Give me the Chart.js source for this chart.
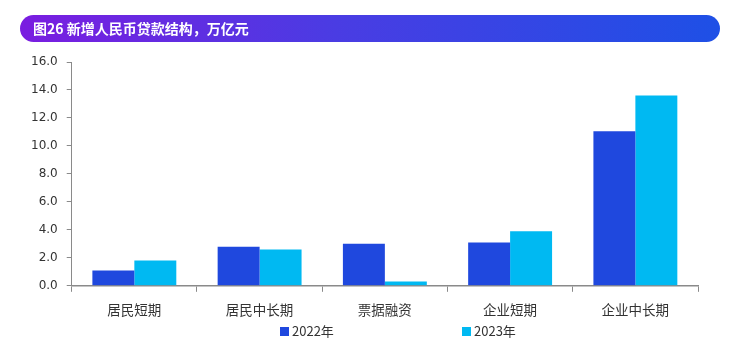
<!DOCTYPE html>
<html>
<head>
<meta charset="utf-8">
<script src="https://cdn.jsdelivr.net/npm/chart.js@4/dist/chart.umd.min.js"></script>
<style>
    body { margin: 0; background: #fff; width: 734px; height: 344px; overflow: hidden; position: relative; font-family: "Noto Sans CJK SC", "Noto Sans", sans-serif; }
    .title-bar { position: absolute; left: 20px; top: 15px; width: 700px; height: 27px; border-radius: 14px;
        background: linear-gradient(90deg, #7a1de0 0%, #4a3ce3 45%, #1e50e6 100%);
        color: #fff; font-weight: bold; font-size: 14px; line-height: 27px; padding-left: 13px; box-sizing: border-box; }
    #chartWrap { position: absolute; left: 0; top: 0; width: 734px; height: 344px; }
    .legend { position: absolute; top: 322px; font-size: 13px; color: #333; line-height: 18px; }
    .legend span.box { display: inline-block; width: 9px; height: 9px; margin-right: 3px; vertical-align: 0px; }
</style>
</head>
<body>
<div id="chartWrap"><canvas id="loanChart" width="734" height="344"></canvas></div>
<div class="title-bar">图26 新增人民币贷款结构，万亿元</div>
<div class="legend" style="left: 280px;"><span class="box" style="background:#1f48de;"></span>2022年</div>
<div class="legend" style="left: 462px;"><span class="box" style="background:#00b9f2;"></span>2023年</div>
<script>
// 数据
const categorias = ['居民短期', '居民中长期', '票据融资', '企业短期', '企业中长期'];
const serie2022 = [1.1, 2.8, 3.0, 3.1, 11.05];
const serie2023 = [1.8, 2.6, 0.3, 3.9, 13.6];
const yTicks = [0, 2, 4, 6, 8, 10, 12, 14, 16];

const ctx = document.getElementById('loanChart').getContext('2d');
new Chart(ctx, {
    type: 'bar',
    data: {
        labels: categorias,
        datasets: [
            { label: '2022年', data: serie2022, backgroundColor: '#1f48de', categoryPercentage: 0.67, barPercentage: 1.0 },
            { label: '2023年', data: serie2023, backgroundColor: '#00b9f2', categoryPercentage: 0.67, barPercentage: 1.0 }
        ]
    },
    options: {
        responsive: false,
        animation: false,
        layout: { padding: { top: 62, left: 22, right: 36, bottom: 16 } },
        plugins: {
            legend: { display: false },
            tooltip: { enabled: false }
        },
        scales: {
            x: {
                grid: { display: true, drawOnChartArea: false, drawTicks: true, tickLength: 6, color: '#8a8a8a', offset: true },
                border: { color: '#8a8a8a', width: 1.5 },
                ticks: { color: '#333', font: { size: 13.5, family: '"Noto Sans CJK SC"' }, padding: 10 }
            },
            y: {
                min: 0,
                max: 16,
                afterBuildTicks: (axis) => { axis.ticks = yTicks.map(v => ({ value: v })); },
                grid: { display: true, drawOnChartArea: false, drawTicks: true, tickLength: 5, color: '#8a8a8a' },
                border: { color: '#8a8a8a', width: 1 },
                ticks: { color: '#333', font: { size: 12, family: '"DejaVu Sans", sans-serif' }, padding: 9,
                    callback: (v) => Number(v).toFixed(1) }
            }
        }
    }
});
</script>
</body>
</html>
